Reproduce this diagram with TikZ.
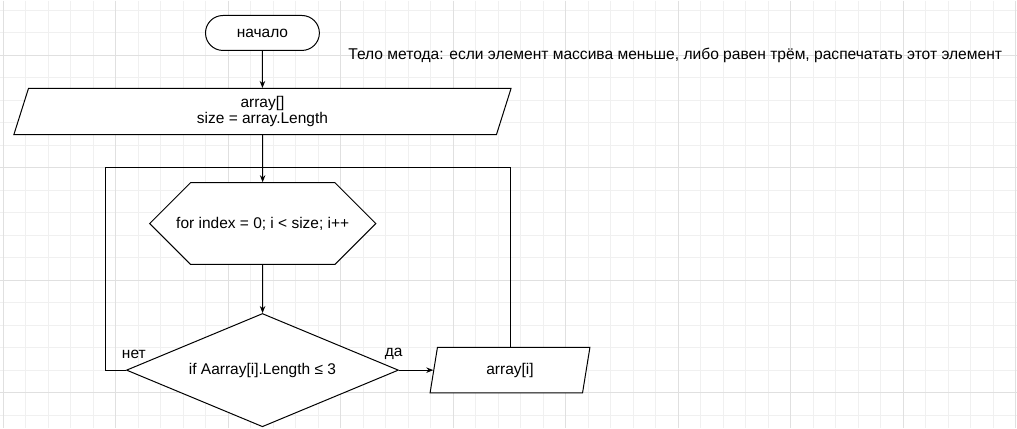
\documentclass[tikz,border=0pt]{standalone}
\usepackage{fontspec}
\setmainfont{Liberation Sans}
\usetikzlibrary{shapes.geometric,shapes.misc,arrows.meta}
\definecolor{gridminor}{rgb}{0.94,0.94,0.94}
\definecolor{gridmajor}{rgb}{0.88,0.88,0.88}

\begin{document}
\begin{tikzpicture}[x=1pt, y=-1pt, font=\fontsize{15.5}{13.5}\selectfont,
  shp/.style={draw, fill=white, line width=1pt, inner sep=0pt},
  term/.style={shp, rounded corners=17.5pt, minimum width=114pt, minimum height=35pt},
  io/.style={shp, trapezium, trapezium stretches body, align=center},
  loopbox/.style={shp, chamfered rectangle, chamfered rectangle xsep=11.4pt,
    chamfered rectangle ysep=34.3pt, minimum width=226.4pt, minimum height=68.7pt},
  cond/.style={shp, diamond, aspect=2.4, minimum width=272.3pt, minimum height=113.4pt},
  arr/.style={line width=1pt, -{Stealth[length=7pt,width=5.5pt]}},
  link/.style={line width=1pt}]
\fill[white] (0,0) rectangle (1017,428);
\foreach \k in {0,...,45}
  \draw[gridminor, line width=1pt] (2.7+22.52*\k,0) -- (2.7+22.52*\k,428);
\foreach \k in {0,...,18}
  \draw[gridminor, line width=1pt] (0,9.7+22.52*\k) -- (1017,9.7+22.52*\k);
\foreach \k in {0,...,9}
  \draw[gridmajor, line width=1pt] (2.7+112.6*\k,0) -- (2.7+112.6*\k,428);
\foreach \k in {0,...,3}
  \draw[gridmajor, line width=1pt] (0,54.7+112.6*\k) -- (1017,54.7+112.6*\k);
\useasboundingbox (0,0) rectangle (1017,428);

\node[term] (start) at (262.2,32.5) {начало};
\node[io, minimum width=497.7pt, minimum height=46.3pt, trapezium left angle=63.9,
  trapezium right angle=116.1] (input) at (262.2,111.2) {array[]\\size = array.Length};
\node[loopbox] (loop) at (262.5,223.3) {for index = 0; i < size; i++};
\node[cond] (cond) at (262.2,370) {if Aarray[i].Length ≤ 3};
\node[io, minimum width=160pt, minimum height=45.6pt, trapezium left angle=62.9,
  trapezium right angle=117.1] (out) at (510,370) {array[i]};
\node (no) at (133.5,354) {нет};
\node (yes) at (393.5,354) {да};
\node[anchor=base west, inner sep=0pt, font=\fontsize{15.6}{17}\selectfont] (note) at (348,59)
  {Тело метода: если элемент массива меньше, либо равен трём, распечатать этот элемент};
\coordinate (join) at (262.2,167.3);
\coordinate (back) at (104.7,370);

\draw[arr] (start) -- (input);
\draw[arr] (input) -- (loop);
\draw[arr] (loop) -- (cond);
\draw[arr] (cond.east) -- (out.left side);
\draw[link] (cond.west) -- (back) |- (join);
\draw[link] (out.north -| out.center) |- (join);
\end{tikzpicture}
\end{document}
